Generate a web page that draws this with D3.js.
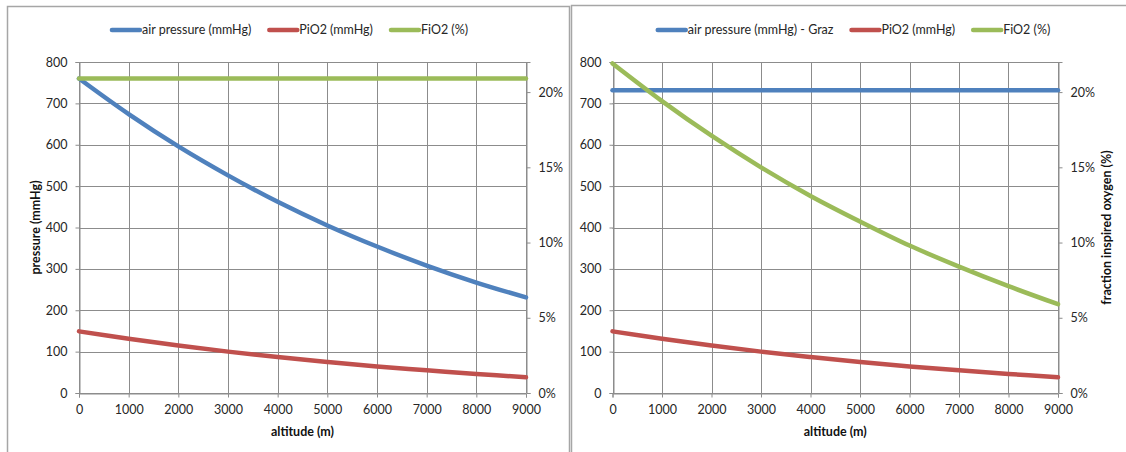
<!DOCTYPE html>
<html>
<head>
<meta charset="utf-8">
<script src="https://cdn.jsdelivr.net/npm/d3@7"></script>
<style>
  html, body { margin: 0; padding: 0; background: #fff; }
  svg { display: block; font-family: Lato, "Open Sans", sans-serif; }
</style>
</head>
<body>
<svg id="chart" width="1126" height="452"></svg>
<script>
// Altitude samples (m)
const altitudes = [0, 1000, 2000, 3000, 4000, 5000, 6000, 7000, 8000, 9000];
// Barometric pressure with altitude (mmHg)
const airPressure = [760, 674, 596, 526, 462, 405, 354, 308, 267, 231];
// Inspired oxygen partial pressure (mmHg)
const pio2 = [149, 131, 115, 100, 87, 75, 64, 55, 46, 38];
// Fraction of inspired oxygen at real altitude (constant)
const fio2Real = [0.209, 0.209, 0.209, 0.209, 0.209, 0.209, 0.209, 0.209, 0.209, 0.209];
// Ambient pressure held at Graz level (mmHg)
const grazPressure = [732, 732, 732, 732, 732, 732, 732, 732, 732, 732];
// Equivalent FiO2 needed at Graz pressure
const fio2Graz = [0.219, 0.194, 0.171, 0.150, 0.131, 0.114, 0.098, 0.084, 0.071, 0.059];

const xTicks = [0, 1000, 2000, 3000, 4000, 5000, 6000, 7000, 8000, 9000];
const pressureTicks = [0, 100, 200, 300, 400, 500, 600, 700, 800];
const fractionTicks = [0, 0.05, 0.10, 0.15, 0.20];

const colors = { blue: "#4F81BD", red: "#C0504D", green: "#9BBB59" };

const svg = d3.select("#chart");

// Panel frames
svg.append("rect").attr("x", 7.5).attr("y", 6.5).attr("width", 562).attr("height", 470)
  .attr("fill", "none").attr("stroke", "#a6a6a6").attr("stroke-width", 1.5);
svg.append("rect").attr("x", 571.5).attr("y", 5.5).attr("width", 600).attr("height", 470)
  .attr("fill", "none").attr("stroke", "#a6a6a6").attr("stroke-width", 1.5);

function drawPanel(opts) {
  const g = svg.append("g");
  const x = d3.scaleLinear().domain([0, 9000]).range([opts.left, opts.right]);
  const y = d3.scaleLinear().domain([0, 800]).range([393, 62]);
  const y2 = d3.scaleLinear().domain([0, 0.22]).range([393, 62]);

  // gridlines
  g.append("g").selectAll("line").data(xTicks).join("line")
    .attr("x1", d => Math.round(x(d)) + 0.5).attr("x2", d => Math.round(x(d)) + 0.5)
    .attr("y1", y(800)).attr("y2", y(0))
    .attr("stroke", "#8c8c8c").attr("stroke-width", 1);
  g.append("g").selectAll("line").data(pressureTicks).join("line")
    .attr("y1", d => Math.round(y(d)) + 0.5).attr("y2", d => Math.round(y(d)) + 0.5)
    .attr("x1", x(0)).attr("x2", x(9000))
    .attr("stroke", "#8c8c8c").attr("stroke-width", 1);

  // axes
  const xAxis = g.append("g").attr("transform", `translate(0,${Math.round(y(0)) + 0.5})`)
    .call(d3.axisBottom(x).tickValues(xTicks).tickSize(4).tickPadding(8).tickFormat(d3.format("d")));
  const yAxis = g.append("g").attr("transform", `translate(${Math.round(x(0)) + 0.5},0)`)
    .call(d3.axisLeft(y).tickValues(pressureTicks).tickSize(4).tickPadding(8));
  const y2Axis = g.append("g").attr("transform", `translate(${Math.round(x(9000)) + 0.5},0)`)
    .call(d3.axisRight(y2).tickValues(fractionTicks).tickSize(4).tickPadding(8).tickFormat(d3.format(".0%")));
  [xAxis, yAxis, y2Axis].forEach(a => {
    a.select(".domain").attr("stroke", "#8c8c8c");
    a.selectAll(".tick line").attr("stroke", "#8c8c8c");
    a.selectAll(".tick text").attr("fill", "#262626").style("font-size", "12.5px")
      .style("font-family", "Lato, 'Open Sans', sans-serif");
  });

  // series, smoothed like a spreadsheet line chart
  const line = (vals, scale) => d3.line()
    .x((d, i) => x(altitudes[i]))
    .y(d => scale(d))
    .curve(d3.curveCatmullRom.alpha(0.5))(vals);
  opts.series.forEach(s => {
    g.append("path").attr("d", line(s.values, s.axis === 2 ? y2 : y))
      .attr("fill", "none").attr("stroke", s.color).attr("stroke-width", 4.5)
      .attr("stroke-linecap", "round");
  });

  // axis titles
  g.append("text").attr("x", (x(0) + x(9000)) / 2).attr("y", 436)
    .attr("text-anchor", "middle").style("font-size", "12.5px").style("font-weight", "bold")
    .attr("fill", "#111").text("altitude (m)");
  if (opts.leftTitle) {
    g.append("text").attr("transform", `translate(${opts.leftTitleX},${y(400)}) rotate(-90)`)
      .attr("text-anchor", "middle").attr("dy", "0.35em")
      .style("font-size", "12.5px").style("font-weight", "bold").attr("fill", "#111")
      .text(opts.leftTitle);
  }
  if (opts.rightTitle) {
    g.append("text").attr("transform", `translate(${opts.rightTitleX},${y(400)}) rotate(-90)`)
      .attr("text-anchor", "middle").attr("dy", "0.35em")
      .style("font-size", "12.5px").style("font-weight", "bold").attr("fill", "#111")
      .text(opts.rightTitle);
  }

  // legend
  const leg = g.append("g");
  let cx = 0;
  opts.series.forEach(s => {
    const it = leg.append("g");
    it.append("line").attr("x1", 0).attr("x2", 28).attr("y1", 0).attr("y2", 0)
      .attr("stroke", s.color).attr("stroke-width", 4.5).attr("stroke-linecap", "round");
    const t = it.append("text").attr("x", 30).attr("dy", "0.35em")
      .style("font-size", "12.5px").attr("fill", "#262626").text(s.name);
    const w = 30 + t.node().getComputedTextLength();
    it.attr("transform", `translate(${cx},0)`);
    cx += w + 18;
  });
  const total = cx - 18;
  leg.attr("transform", `translate(${opts.legendCenter - total / 2},30)`);
}

drawPanel({
  left: 79, right: 526,
  leftTitle: "pressure (mmHg)", leftTitleX: 36,
  legendCenter: 290,
  series: [
    { name: "air pressure (mmHg)", values: airPressure, color: colors.blue, axis: 1 },
    { name: "PiO2 (mmHg)", values: pio2, color: colors.red, axis: 1 },
    { name: "FiO2 (%)", values: fio2Real, color: colors.green, axis: 2 }
  ]
});

drawPanel({
  left: 612.5, right: 1058,
  rightTitle: "fraction inspired oxygen (%)", rightTitleX: 1107,
  legendCenter: 854,
  series: [
    { name: "air pressure (mmHg) - Graz", values: grazPressure, color: colors.blue, axis: 1 },
    { name: "PiO2 (mmHg)", values: pio2, color: colors.red, axis: 1 },
    { name: "FiO2 (%)", values: fio2Graz, color: colors.green, axis: 2 }
  ]
});
</script>
</body>
</html>
